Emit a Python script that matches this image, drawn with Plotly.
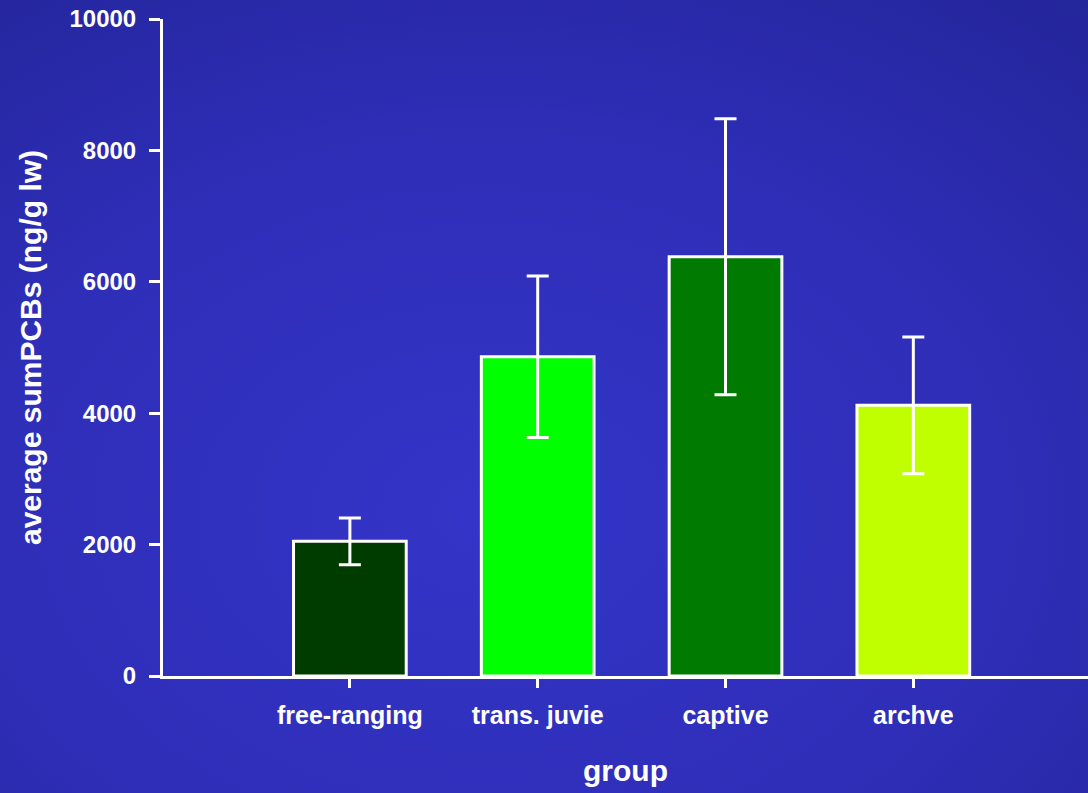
import base64
import plotly.graph_objects as go

# Mean sum of PCBs per group with error bar half-widths
groups = ["free-ranging", "trans. juvie", "captive", "archve"]
mean_pcbs = [2050, 4860, 6380, 4120]
err_pcbs = [355, 1230, 2100, 1040]
bar_colors = ["#003c00", "#00ff00", "#007a00", "#bfff00"]
y_ticks = [0, 2000, 4000, 6000, 8000, 10000]
y_tick_text = ["0", "2000", "4000", "6000", "8000", "10000"]

W, H = 1088, 793

# soft radial blue backdrop as an inline svg
svg = f"""<svg xmlns='http://www.w3.org/2000/svg' width='{W}' height='{H}'>
<defs>
<radialGradient id='g' cx='0.45' cy='0.65' r='0.85'>
<stop offset='0' stop-color='#3434c8'/>
<stop offset='0.55' stop-color='#2e2eb8'/>
<stop offset='1' stop-color='#23259a'/>
</radialGradient>
</defs>
<rect width='{W}' height='{H}' fill='url(#g)'/>
</svg>"""
bg_src = "data:image/svg+xml;base64," + base64.b64encode(svg.encode()).decode()

font_family = "Liberation Sans, Arial, sans-serif"

fig = go.Figure(
    go.Bar(
        x=list(range(len(groups))),
        y=mean_pcbs,
        width=0.6,
        marker=dict(color=bar_colors, line=dict(color="white", width=3)),
        error_y=dict(type="data", array=err_pcbs, color="white",
                     thickness=3, width=11),
    )
)

fig.update_layout(
    width=W,
    height=H,
    margin=dict(l=163, r=0, t=19, b=117),
    paper_bgcolor="#2e2eb8",
    plot_bgcolor="rgba(0,0,0,0)",
    showlegend=False,
    font=dict(family=font_family, color="white", size=24, weight="bold"),
    images=[dict(source=bg_src, xref="paper", yref="paper",
                 x=-163 / 925, y=1 + 19 / 657,
                 sizex=W / 925, sizey=H / 657,
                 xanchor="left", yanchor="top", sizing="stretch", layer="below")],
)

fig.update_xaxes(
    range=[-0.995, 3.93],
    tickmode="array",
    tickvals=list(range(len(groups))),
    ticktext=groups,
    ticks="outside",
    ticklen=9,
    tickwidth=3,
    tickcolor="white",
    showline=True,
    linecolor="white",
    linewidth=3,
    showgrid=False,
    zeroline=False,
    ticklabelstandoff=6,
    tickfont=dict(size=25, color="white", family=font_family, weight="bold"),
    title=dict(text="group", standoff=32,
               font=dict(size=30, color="white", family=font_family, weight="bold")),
)

fig.update_yaxes(
    range=[0, 10000],
    tickmode="array",
    tickvals=y_ticks,
    ticktext=y_tick_text,
    ticks="outside",
    ticklen=11,
    tickwidth=3,
    tickcolor="white",
    showline=True,
    linecolor="white",
    linewidth=3,
    showgrid=False,
    zeroline=False,
    ticklabelstandoff=8,
    tickfont=dict(size=24, color="white", family=font_family, weight="bold"),
    title=dict(text="average sumPCBs (ng/g lw)", standoff=19,
               font=dict(size=30, color="white", family=font_family, weight="bold")),
)

fig.write_html("out.html")
